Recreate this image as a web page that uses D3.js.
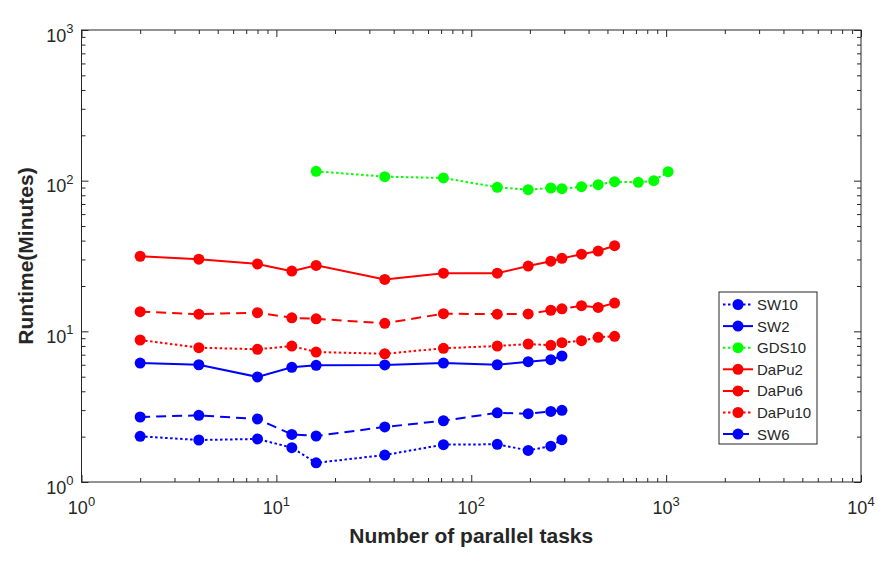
<!DOCTYPE html>
<html>
<head>
<meta charset="utf-8">
<script src="https://cdn.jsdelivr.net/npm/d3@7"></script>
<style>
  body { margin: 0; background: #fff; }
  text { font-family: "Liberation Sans", Arial, sans-serif; fill: #262626; }
</style>
</head>
<body>
<div id="chart"></div>
<script>
// parallel task counts
const tasksSW = [2, 4, 8, 12, 16, 36, 72, 136, 196, 256, 292];
const tasksDaPu = [2, 4, 8, 12, 16, 36, 72, 136, 196, 256, 292, 368, 448, 544];
const tasksGDS = [16, 36, 72, 136, 196, 256, 292, 368, 448, 544, 720, 864, 1024];

// runtimes in minutes
const sw10 = [2.01, 1.90, 1.93, 1.69, 1.34, 1.51, 1.77, 1.78, 1.62, 1.73, 1.91];
const sw2 = [6.16, 6.00, 4.98, 5.77, 5.95, 5.98, 6.16, 6.00, 6.29, 6.48, 6.86];
const gds10 = [115.4, 106.3, 104.2, 90.4, 87.1, 89.4, 88.4, 91.2, 94.0, 98.4, 97.5, 100, 114.7];
const dapu2 = [31.5, 30.1, 28.0, 25.1, 27.4, 22.1, 24.3, 24.3, 27.1, 29.2, 30.5, 32.5, 34.1, 37.0];
const dapu6 = [13.5, 13.0, 13.3, 12.3, 12.1, 11.3, 13.1, 13.0, 13.05, 13.8, 14.1, 14.8, 14.4, 15.4];
const dapu10 = [8.76, 7.79, 7.60, 7.99, 7.29, 7.10, 7.72, 7.99, 8.24, 8.08, 8.41, 8.67, 9.13, 9.27];
const sw6 = [2.70, 2.77, 2.62, 2.07, 2.02, 2.32, 2.55, 2.88, 2.84, 2.94, 2.99];

const seriesNames = ["SW10", "SW2", "GDS10", "DaPu2", "DaPu6", "DaPu10", "SW6"];
const decades = [1, 10, 100, 1000, 10000];

const series = [
  { name: "SW10", xs: tasksSW, ys: sw10, color: "#0000ff", dash: "2.5,2.5" },
  { name: "SW2", xs: tasksSW, ys: sw2, color: "#0000ff", dash: null },
  { name: "GDS10", xs: tasksGDS, ys: gds10, color: "#00ff00", dash: "2.5,2.5" },
  { name: "DaPu2", xs: tasksDaPu, ys: dapu2, color: "#ff0000", dash: null },
  { name: "DaPu6", xs: tasksDaPu, ys: dapu6, color: "#ff0000", dash: "10,6" },
  { name: "DaPu10", xs: tasksDaPu, ys: dapu10, color: "#ff0000", dash: "2.5,2.5" },
  { name: "SW6", xs: tasksSW, ys: sw6, color: "#0000ff", dash: "10,6" }
];

const width = 892, height = 573;
const margin = { top: 30, right: 31, bottom: 91, left: 81.5 };

const svg = d3.select("#chart").append("svg")
  .attr("width", width).attr("height", height);

const x = d3.scaleLog().domain([1, 10000]).range([margin.left, width - margin.right]);
const y = d3.scaleLog().domain([1, 1000]).range([height - margin.bottom, margin.top]);

// minor ticks (2..9 of each decade)
const minorX = [], minorY = [];
for (let e = 0; e < 4; e++) for (let k = 2; k < 10; k++) minorX.push(k * Math.pow(10, e));
for (let e = 0; e < 3; e++) for (let k = 2; k < 10; k++) minorY.push(k * Math.pow(10, e));

const x0 = x.range()[0], x1 = x.range()[1];
const y0 = y.range()[0], y1 = y.range()[1];

function styleAxis(g) {
  g.select(".domain").remove();
  g.selectAll("line").attr("stroke", "#262626").attr("stroke-width", 1);
}

// inward ticks on all four sides
svg.append("g").attr("transform", `translate(0,${y0})`)
  .call(d3.axisBottom(x).tickValues(decades).tickSize(-7).tickFormat("")).call(styleAxis);
svg.append("g").attr("transform", `translate(0,${y0})`)
  .call(d3.axisBottom(x).tickValues(minorX).tickSize(-4).tickFormat("")).call(styleAxis);
svg.append("g").attr("transform", `translate(0,${y1})`)
  .call(d3.axisTop(x).tickValues(decades).tickSize(-7).tickFormat("")).call(styleAxis);
svg.append("g").attr("transform", `translate(0,${y1})`)
  .call(d3.axisTop(x).tickValues(minorX).tickSize(-4).tickFormat("")).call(styleAxis);
svg.append("g").attr("transform", `translate(${x0},0)`)
  .call(d3.axisLeft(y).tickValues(decades.slice(0, 4)).tickSize(-7).tickFormat("")).call(styleAxis);
svg.append("g").attr("transform", `translate(${x0},0)`)
  .call(d3.axisLeft(y).tickValues(minorY).tickSize(-4).tickFormat("")).call(styleAxis);
svg.append("g").attr("transform", `translate(${x1},0)`)
  .call(d3.axisRight(y).tickValues(decades.slice(0, 4)).tickSize(-7).tickFormat("")).call(styleAxis);
svg.append("g").attr("transform", `translate(${x1},0)`)
  .call(d3.axisRight(y).tickValues(minorY).tickSize(-4).tickFormat("")).call(styleAxis);

svg.append("rect")
  .attr("x", x0).attr("y", y1).attr("width", x1 - x0).attr("height", y0 - y1)
  .attr("fill", "none").attr("stroke", "#262626").attr("stroke-width", 1);

// tick labels as 10^n
function powLabel(sel, v) {
  const e = Math.round(Math.log10(v));
  sel.append("tspan").text("10");
  sel.append("tspan").attr("dy", -8.5).attr("font-size", 13).text(e);
}
decades.forEach(v => {
  svg.append("text").attr("x", x(v)).attr("y", y0 + 32)
    .attr("text-anchor", "middle").attr("font-size", 18).call(powLabel, v);
});
decades.slice(0, 4).forEach(v => {
  svg.append("text").attr("x", x0 - 8).attr("y", y(v) + 11.5)
    .attr("text-anchor", "end").attr("font-size", 18).call(powLabel, v);
});

// axis titles
svg.append("text")
  .attr("x", (x0 + x1) / 2).attr("y", 543)
  .attr("text-anchor", "middle").attr("font-size", 21).attr("font-weight", "bold")
  .text("Number of parallel tasks");
svg.append("text")
  .attr("transform", `translate(32.5,${(y0 + y1) / 2}) rotate(-90)`)
  .attr("text-anchor", "middle").attr("font-size", 21).attr("font-weight", "bold")
  .text("Runtime(Minutes)");

// lines + markers
const line = d3.line().x(d => x(d[0])).y(d => y(d[1]));
series.forEach(s => {
  const pts = s.xs.map((v, i) => [v, s.ys[i]]);
  const g = svg.append("g");
  g.append("path").datum(pts).attr("d", line)
    .attr("fill", "none").attr("stroke", s.color).attr("stroke-width", 2)
    .attr("stroke-dasharray", s.dash);
  g.selectAll("circle").data(pts).join("circle")
    .attr("cx", d => x(d[0])).attr("cy", d => y(d[1])).attr("r", 5.5)
    .attr("fill", s.color);
});

// legend
const lg = svg.append("g").attr("transform", "translate(719,292)");
lg.append("rect").attr("width", 98).attr("height", 152)
  .attr("fill", "#fff").attr("stroke", "#262626").attr("stroke-width", 1);
seriesNames.forEach((name, i) => {
  const s = series.find(d => d.name === name);
  const yy = 12.5 + i * 21.6;
  lg.append("line").attr("x1", 4).attr("x2", 34).attr("y1", yy).attr("y2", yy)
    .attr("stroke", s.color).attr("stroke-width", 2).attr("stroke-dasharray", s.dash);
  lg.append("circle").attr("cx", 19).attr("cy", yy).attr("r", 5.5).attr("fill", s.color);
  lg.append("text").attr("x", 38).attr("y", yy + 5.5).attr("font-size", 15).text(name);
});
</script>
</body>
</html>
